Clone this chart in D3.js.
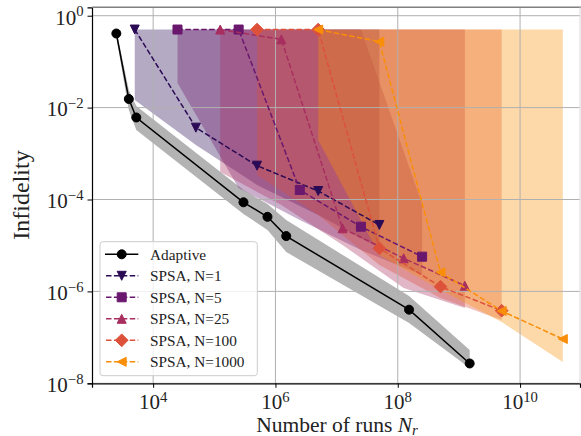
<!DOCTYPE html>
<html>
<head>
<meta charset="utf-8">
<script src="https://cdn.jsdelivr.net/npm/d3@7"></script>
<style>
  body { margin: 0; background: #fff; }
  text { font-family: "Liberation Serif", "DejaVu Serif", serif; }
</style>
</head>
<body>
<div id="chart"></div>
<script>
// Adaptive protocol: runs, infidelity and its shaded band
const adaptiveRuns = [2.5e3, 4.0e3, 5.3e3, 3.0e5, 7.4e5, 1.5e6, 1.53e8, 1.5e9];
const adaptiveInf  = [0.41, 0.0154, 0.0061, 8.7e-5, 4.2e-5, 1.6e-5, 4.0e-7, 2.7e-8];
const adaptiveHi   = [0.49, 0.0242, 0.0108, 1.61e-4, 7.98e-5, 3.58e-5, 7.9e-7, 5.3e-8];
const adaptiveLo   = [0.344, 0.00887, 0.00325, 4.83e-5, 2.17e-5, 7.2e-6, 2.05e-7, 2.15e-8];

// SPSA, N=1
const runsN1 = [5e3, 5e4, 5e5, 5e6, 5e7];
const infN1  = [0.5, 3.66e-3, 5.45e-4, 1.53e-4, 2.79e-5];
const loN1   = [0.0146, 1.54e-3, 2.07e-4, 4.6e-5, 8.8e-6];
const hiN1   = [0.5, 0.5, 0.5, 0.5, 0.5];

// SPSA, N=5
const runsN5 = [2.5e4, 2.5e5, 2.5e6, 2.5e7, 2.5e8];
const infN5  = [0.5, 0.5, 1.61e-4, 2.56e-5, 5.7e-6];
const loN5   = [0.0343, 1.78e-4, 3.58e-5, 7.96e-6, 2.27e-6];
const hiN5   = [0.5, 0.5, 0.5, 0.5, 8e-5];

// SPSA, N=25
const runsN25 = [1.25e5, 1.25e6, 1.25e7, 1.25e8, 1.25e9];
const infN25  = [0.5, 0.306, 2.36e-5, 5.25e-6, 1.33e-6];
const loN25   = [3.97e-4, 7.6e-5, 1.02e-5, 1.19e-6, 4.35e-7];
const hiN25   = [0.5, 0.5, 0.5, 0.5, 0.5];

// SPSA, N=100
const runsN100 = [5e5, 5e6, 5e7, 5e8, 5e9];
const infN100  = [0.5, 0.5, 8.67e-6, 1.27e-6, 3.8e-7];
const loN100   = [3.41e-4, 4.6e-5, 3.76e-6, 7.2e-7, 2.39e-7];
const hiN100   = [0.5, 0.5, 0.5, 0.5, 0.5];

// SPSA, N=1000
const runsN1000 = [5e6, 5e7, 5e8, 5e9, 5e10];
const infN1000  = [0.5, 0.272, 2.6e-6, 3.74e-7, 9.2e-8];
const loN1000   = [1.97e-3, 6.2e-6, 1.07e-6, 2.16e-7, 2.9e-8];
const hiN1000   = [0.5, 0.5, 0.5, 0.5, 0.5];

const labels = ["Adaptive", "SPSA, N=1", "SPSA, N=5", "SPSA, N=25", "SPSA, N=100", "SPSA, N=1000"];
const xTickExp = [4, 6, 8, 10];
const yTickExp = [0, -2, -4, -6, -8];

const width = 581;
const height = 436;
const margin = { top: 7.3, right: 1, bottom: 52.7, left: 92 };

const series = [
  { label: labels[0], runs: adaptiveRuns, inf: adaptiveInf, lo: adaptiveLo, hi: adaptiveHi,
    color: "#000000", fill: "#b3b3b3", fillOpacity: 1, marker: "circle", dash: null },
  { label: labels[1], runs: runsN1, inf: infN1, lo: loN1, hi: hiN1,
    color: "#2b0b55", marker: "down", dash: "5.5,2.4" },
  { label: labels[2], runs: runsN5, inf: infN5, lo: loN5, hi: hiN5,
    color: "#6a176e", marker: "square", dash: "5.5,2.4" },
  { label: labels[3], runs: runsN25, inf: infN25, lo: loN25, hi: hiN25,
    color: "#a82e5f", marker: "up", dash: "5.5,2.4" },
  { label: labels[4], runs: runsN100, inf: infN100, lo: loN100, hi: hiN100,
    color: "#dd513a", marker: "diamond", dash: "5.5,2.4" },
  { label: labels[5], runs: runsN1000, inf: infN1000, lo: loN1000, hi: hiN1000,
    color: "#f98e09", marker: "left", dash: "5.5,2.4" }
];

const svg = d3.select("#chart")
  .append("svg")
  .attr("width", width)
  .attr("height", height);

const x = d3.scaleLog()
  .domain([1e3, Math.pow(10, 10.98)])
  .range([margin.left, width - margin.right]);

const y = d3.scaleLog()
  .domain([1e-8, Math.pow(10, 0.183)])
  .range([height - margin.bottom, margin.top]);

svg.append("defs").append("clipPath").attr("id", "plot")
  .append("rect")
  .attr("x", margin.left).attr("y", margin.top)
  .attr("width", width - margin.right - margin.left)
  .attr("height", height - margin.bottom - margin.top);

const plot = svg.append("g").attr("clip-path", "url(#plot)");

// shaded bands
const area = d3.area()
  .x(d => x(d.r))
  .y0(d => y(d.lo))
  .y1(d => y(d.hi));

series.forEach(s => {
  const pts = s.runs.map((r, i) => ({ r: r, lo: s.lo[i], hi: s.hi[i] }));
  plot.append("path")
    .attr("d", area(pts))
    .attr("fill", s.fill || s.color)
    .attr("fill-opacity", s.fillOpacity || 0.35);
});

// grid
plot.selectAll(".gx")
  .data(xTickExp)
  .enter()
  .append("line")
  .attr("x1", d => x(Math.pow(10, d)))
  .attr("x2", d => x(Math.pow(10, d)))
  .attr("y1", margin.top)
  .attr("y2", height - margin.bottom)
  .attr("stroke", "#b0b0b0")
  .attr("stroke-width", 1);

plot.selectAll(".gy")
  .data(yTickExp)
  .enter()
  .append("line")
  .attr("x1", margin.left)
  .attr("x2", width - margin.right)
  .attr("y1", d => y(Math.pow(10, d)))
  .attr("y2", d => y(Math.pow(10, d)))
  .attr("stroke", "#b0b0b0")
  .attr("stroke-width", 1);

// markers
function markerPath(type, s) {
  const h = s / 2;
  if (type === "down") return `M0,${h}L${-h},${-h}L${h},${-h}Z`;
  if (type === "up") return `M0,${-h}L${-h},${h}L${h},${h}Z`;
  if (type === "left") return `M${-h},0L${h},${-h}L${h},${h}Z`;
  if (type === "square") return `M${-h},${-h}H${h}V${h}H${-h}Z`;
  if (type === "diamond") {
    const d = s * 0.7071;
    return `M0,${-d}L${d},0L0,${d}L${-d},0Z`;
  }
  return `M${h},0A${h},${h} 0 1,1 ${-h},0A${h},${h} 0 1,1 ${h},0Z`;
}

const line = d3.line()
  .x(d => x(d.r))
  .y(d => y(d.v));

series.forEach(s => {
  const pts = s.runs.map((r, i) => ({ r: r, v: s.inf[i] }));
  plot.append("path")
    .attr("d", line(pts))
    .attr("fill", "none")
    .attr("stroke", s.color)
    .attr("stroke-width", 1.5)
    .attr("stroke-dasharray", s.dash);

  plot.selectAll(null)
    .data(pts)
    .enter()
    .append("path")
    .attr("transform", d => `translate(${x(d.r)},${y(d.v)})`)
    .attr("d", markerPath(s.marker, 9))
    .attr("fill", s.color)
    .attr("stroke", s.color)
    .attr("stroke-width", 1);
});

// axes
svg.append("g")
  .attr("transform", `translate(0,${height - margin.bottom})`)
  .call(d3.axisBottom(x).tickValues(xTickExp.map(e => Math.pow(10, e))).tickSize(4.5).tickFormat(""))
  .call(g => g.select(".domain").attr("stroke", "#000").attr("stroke-width", 1.2))
  .call(g => g.selectAll(".tick line").attr("stroke-width", 1));

svg.append("g")
  .attr("transform", `translate(${margin.left},0)`)
  .call(d3.axisLeft(y).tickValues(yTickExp.map(e => Math.pow(10, e))).tickSize(4.5).tickFormat(""))
  .call(g => g.select(".domain").attr("stroke", "#000").attr("stroke-width", 1.2))
  .call(g => g.selectAll(".tick line").attr("stroke-width", 1));

// top and right spines
svg.append("line")
  .attr("x1", margin.left).attr("x2", width)
  .attr("y1", margin.top).attr("y2", margin.top)
  .attr("stroke", "#808080").attr("stroke-width", 1.5);
svg.append("line")
  .attr("x1", width - margin.right).attr("x2", width - margin.right)
  .attr("y1", margin.top).attr("y2", height - margin.bottom)
  .attr("stroke", "#d8d8d8").attr("stroke-width", 1);

// tick labels
const xl = svg.selectAll(".xlab")
  .data(xTickExp)
  .enter()
  .append("text")
  .attr("x", d => x(Math.pow(10, d)))
  .attr("y", 409.3)
  .attr("text-anchor", "middle")
  .attr("font-size", 21)
  .attr("fill", "#222");
xl.append("tspan").text("10");
xl.append("tspan").attr("font-size", 14.7).attr("dy", -7).text(d => d);

const yl = svg.selectAll(".ylab")
  .data(yTickExp)
  .enter()
  .append("text")
  .attr("x", 83.5)
  .attr("y", d => y(Math.pow(10, d)) + 8.8)
  .attr("text-anchor", "end")
  .attr("font-size", 21)
  .attr("fill", "#222");
yl.append("tspan").text("10");
yl.append("tspan").attr("font-size", 14.7).attr("dy", -8.3).text(d => d < 0 ? "\u2212" + (-d) : d);

// axis labels
const xt = svg.append("text")
  .attr("x", 337)
  .attr("y", 432)
  .attr("text-anchor", "middle")
  .attr("font-size", 21.5)
  .attr("fill", "#222");
xt.append("tspan").text("Number of runs ");
xt.append("tspan").attr("font-style", "italic").text("N");
xt.append("tspan").attr("font-style", "italic").attr("font-size", 15).attr("dy", 2.5).text("r");

svg.append("text")
  .attr("transform", "translate(28.5,195) rotate(-90)")
  .attr("text-anchor", "middle")
  .attr("font-size", 24)
  .attr("fill", "#222")
  .text("Infidelity");

// legend
const legend = svg.append("g");
legend.append("rect")
  .attr("x", 100).attr("y", 241.7)
  .attr("width", 157.3).attr("height", 134)
  .attr("rx", 3)
  .attr("fill", "#fff").attr("fill-opacity", 0.8)
  .attr("stroke", "#cccccc").attr("stroke-width", 1);

series.forEach((s, i) => {
  const cy = 254.3 + i * 21.5;
  legend.append("line")
    .attr("x1", 105).attr("x2", 138.3)
    .attr("y1", cy).attr("y2", cy)
    .attr("stroke", s.color)
    .attr("stroke-width", 1.5)
    .attr("stroke-dasharray", s.dash ? "5.5,2.4" : null)
    .attr("stroke-dashoffset", s.dash ? -1 : null);
  legend.append("path")
    .attr("transform", `translate(121.7,${cy})`)
    .attr("d", markerPath(s.marker, 9))
    .attr("fill", s.color)
    .attr("stroke", s.color)
    .attr("stroke-width", 1);
  legend.append("text")
    .attr("x", 150)
    .attr("y", cy + 5.2)
    .attr("font-size", 15.3)
    .attr("fill", "#222")
    .text(s.label);
});
</script>
</body>
</html>
